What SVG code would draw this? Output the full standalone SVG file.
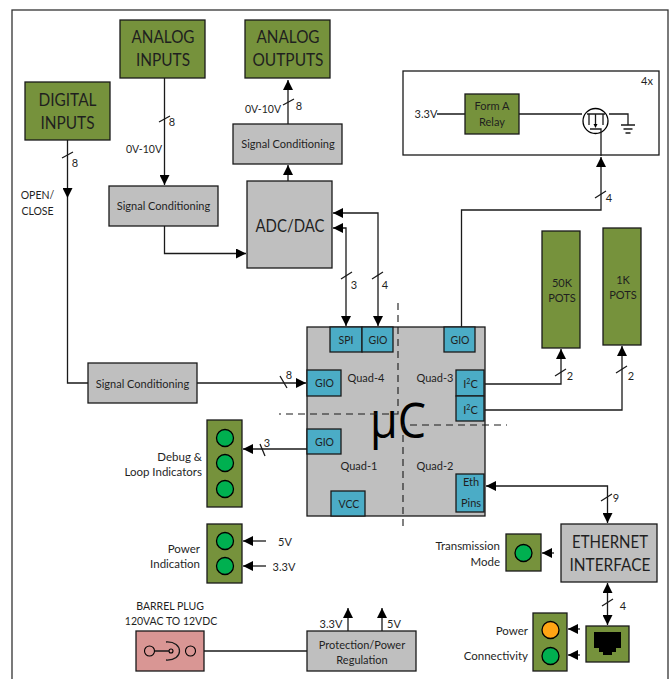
<svg xmlns="http://www.w3.org/2000/svg" width="670" height="679" viewBox="0 0 670 679">
<style>
text{font-family:"Lato","Open Sans","Liberation Sans",sans-serif;fill:#1f1f1f;text-anchor:middle;font-size:11px}
.g{fill:#76923c;stroke:#1a1a1a;stroke-width:1.3}
.k{fill:#bfbfbf;stroke:#1a1a1a;stroke-width:1.3}
.b{fill:#4bacc6;stroke:#1a1a1a;stroke-width:1.3}
.l{fill:#00b050;stroke:#000;stroke-width:1.3}
.t18{font-size:17px}
.t{font-size:11px}
.m{font-size:11.5px}
.n{font-size:10.500px}
.r{text-anchor:end}
.c{fill:none;stroke:#1a1a1a;stroke-width:1.3}
.a{marker-end:url(#ah)}
.ab{marker-start:url(#as);marker-end:url(#ah)}
.d{fill:none;stroke:#1a1a1a;stroke-width:1.1;stroke-dasharray:7 5}
</style>
<defs>
<marker id="ah" markerUnits="userSpaceOnUse" markerWidth="11" markerHeight="10" refX="10" refY="5" orient="auto"><path d="M0 0L10 5L0 10Z" fill="#000"/></marker>
<marker id="as" markerUnits="userSpaceOnUse" markerWidth="11" markerHeight="10" refX="0" refY="5" orient="auto"><path d="M10 0L0 5L10 10Z" fill="#000"/></marker>
</defs>
<rect id="frame" x="12" y="10" width="656" height="680" fill="#fff" stroke="#333" stroke-width="1.3"/>
<g id="connectors">
<path class="c a" d="M67.500 140V198"/><path class="c" d="M67.500 198V383H88"/>
<path class="c a" d="M197 383H306"/>
<path class="c a" d="M164.500 78V185"/>
<path class="c a" d="M164.500 226V253.500H246"/>
<path class="c a" d="M288 124V80"/>
<path class="c a" d="M288 181V165"/>
<path class="c ab" d="M333 228H346V326"/>
<path class="c ab" d="M333 213H378V326"/>
<path class="c a" d="M461.500 327V210H601V157"/>
<path class="c a" d="M485 384H561V349"/>
<path class="c a" d="M485 410H622V346"/>
<path class="c a" d="M307 449H243"/>
<path class="c a" d="M266 541H243"/><path class="c a" d="M266 566H243"/>
<path class="c" d="M204 651H307"/>
<path class="c a" d="M348 631V608"/><path class="c a" d="M382 631V608"/>
<path class="c ab" d="M486 486H607.500V523"/>
<path class="c a" d="M554 553H542"/>
<path class="c ab" d="M607.500 583V625"/>
<path class="c a" d="M580 629H568"/><path class="c a" d="M580 655H568"/>
<path class="c" d="M62 158L73 152M159 122L170 116M283 105L294 99M341 279L352 272M372 279L383 272M595 198L606 191M555 376L566 369M616 373L627 366M601 501L612 494M602 606L613 599M280 376L287 388M260 444L265 456"/>
<path class="c" d="M466 114H582M609 114H628V125M437 114H465"/>
</g>
<g id="relay-box"><rect x="403" y="71" width="256" height="84" fill="none" stroke="#1a1a1a" stroke-width="1.3"/>
<text x="647" y="85" class="t">4x</text><text x="426" y="118" class="t">3.3V</text></g>
<g id="form-a-relay"><rect class="g" x="465" y="94" width="54" height="40"/><text x="492" y="110" class="t">Form A</text><text x="492" y="126" class="t">Relay</text></g>
<g id="mosfet"><circle cx="595.500" cy="121" r="12.500" fill="#fff" stroke="#000" stroke-width="1.3"/>
<path class="c" d="M587 114H605M589 114V125M595.500 114V125M603 114V125M590 129H601V156"/><path d="M593.500 124h4l-2 4z" fill="#000"/></g>
<g id="ground"><path class="c" d="M621 125H635M623.500 129H632.500M625.500 133H630.500"/></g>
<g id="analog-inputs"><rect class="g" x="120" y="20" width="85" height="58"/><text x="163" y="43" class="t18" textLength="63" lengthAdjust="spacingAndGlyphs">ANALOG</text><text x="163" y="66" class="t18" textLength="54" lengthAdjust="spacingAndGlyphs">INPUTS</text></g>
<g id="analog-outputs"><rect class="g" x="245" y="20" width="85" height="58"/><text x="288" y="43" class="t18" textLength="63" lengthAdjust="spacingAndGlyphs">ANALOG</text><text x="288" y="66" class="t18" textLength="71" lengthAdjust="spacingAndGlyphs">OUTPUTS</text></g>
<g id="digital-inputs"><rect class="g" x="25" y="82" width="85" height="58"/><text x="67.500" y="106" class="t18" textLength="58" lengthAdjust="spacingAndGlyphs">DIGITAL</text><text x="67.500" y="129" class="t18" textLength="54" lengthAdjust="spacingAndGlyphs">INPUTS</text></g>
<g id="sc-input"><rect class="k" x="109" y="186" width="109" height="40"/><text x="163.500" y="210" class="t">Signal Conditioning</text></g>
<g id="sc-output"><rect class="k" x="233" y="124" width="109" height="40"/><text x="288" y="148" class="t">Signal Conditioning</text></g>
<g id="sc-digital"><rect class="k" x="88" y="363" width="109" height="40"/><text x="142.500" y="388" class="t">Signal Conditioning</text></g>
<g id="adc-dac"><rect class="k" x="247" y="181" width="85" height="87"/><text x="290" y="232" class="t18" textLength="69" lengthAdjust="spacingAndGlyphs">ADC/DAC</text></g>
<g id="pots-50k"><rect class="g" x="542" y="231" width="38" height="117"/><text x="562" y="287" class="t">50K</text><text x="562" y="302" class="t">POTS</text></g>
<g id="pots-1k"><rect class="g" x="603" y="228" width="38" height="117"/><text x="623" y="284" class="t">1K</text><text x="623" y="299" class="t">POTS</text></g>
<g id="mcu"><rect class="k" x="307" y="327" width="178" height="189"/>
<text x="398" y="438" textLength="56" lengthAdjust="spacingAndGlyphs" style="font-family:'Open Sans','Liberation Sans',sans-serif;font-size:50px;fill:#000">μC</text>
<text x="366" y="382" class="t">Quad-4</text><text x="435" y="382" class="t">Quad-3</text><text x="359" y="470" class="t">Quad-1</text><text x="435" y="470" class="t">Quad-2</text>
<path class="d" d="M398 303V414H279M403 526V425H507"/></g>
<g id="mcu-spi"><rect class="b" x="330" y="327" width="32" height="25"/><text x="346" y="344" class="n">SPI</text></g>
<g id="mcu-gio1"><rect class="b" x="362" y="327" width="31" height="25"/><text x="378" y="344" class="n">GIO</text></g>
<g id="mcu-gio2"><rect class="b" x="444" y="327" width="31" height="25"/><text x="460" y="344" class="n">GIO</text></g>
<g id="mcu-gio3"><rect class="b" x="307" y="370" width="34" height="26"/><text x="324.500" y="387" class="n">GIO</text></g>
<g id="mcu-gio4"><rect class="b" x="307" y="429" width="34" height="25"/><text x="324.500" y="446" class="n">GIO</text></g>
<g id="mcu-vcc"><rect class="b" x="331" y="491" width="34" height="25"/><text x="349" y="508" class="n">VCC</text></g>
<g id="mcu-i2c1"><rect class="b" x="456" y="370" width="28" height="26"/><text x="470.500" y="388" class="t">I<tspan dy="-4" font-size="7">2</tspan><tspan dy="4">C</tspan></text></g>
<g id="mcu-i2c2"><rect class="b" x="456" y="396" width="28" height="25"/><text x="470.500" y="414" class="t">I<tspan dy="-4" font-size="7">2</tspan><tspan dy="4">C</tspan></text></g>
<g id="mcu-eth"><rect class="b" x="456" y="474" width="28" height="38"/><text x="471" y="486" class="t">Eth</text><text x="471" y="507" class="t">Pins</text></g>
<g id="debug-leds"><rect class="g" x="207" y="420" width="35" height="87"/><circle class="l" cx="225" cy="438" r="8.500"/><circle class="l" cx="225" cy="463" r="8.500"/><circle class="l" cx="225" cy="489" r="8.500"/></g>
<g id="power-leds"><rect class="g" x="207" y="524" width="35" height="59"/><circle class="l" cx="225" cy="541" r="8.500"/><circle class="l" cx="225" cy="566" r="8.500"/></g>
<g id="barrel-plug"><rect x="136" y="631" width="68" height="40" fill="#d99694" stroke="#1a1a1a" stroke-width="1.3"/>
<circle cx="149.500" cy="651" r="5" fill="none" stroke="#000" stroke-width="1.100"/><circle cx="190.500" cy="651" r="5" fill="none" stroke="#000" stroke-width="1.100"/><circle cx="171" cy="651" r="2" fill="none" stroke="#000" stroke-width="1.100"/>
<path class="c" d="M154.500 651H169M166 642C184 641 184 661 166 660"/></g>
<g id="protection"><rect class="k" x="307" y="631" width="109" height="40"/><text x="362" y="649" class="t">Protection/Power</text><text x="362" y="664" class="t">Regulation</text></g>
<g id="ethernet-interface"><rect class="k" x="561" y="524" width="96" height="58"/><text x="610" y="548" class="t18" textLength="76" lengthAdjust="spacingAndGlyphs">ETHERNET</text><text x="610" y="571" class="t18" textLength="81" lengthAdjust="spacingAndGlyphs">INTERFACE</text></g>
<g id="tx-led"><rect class="g" x="506" y="534" width="35" height="37"/><circle class="l" cx="523.500" cy="553" r="8.500"/></g>
<g id="rj45"><rect class="g" x="586" y="626" width="43" height="36"/><path d="M594 632H621V648H616V652H612V655H603V652H599V648H594Z" fill="#000"/></g>
<g id="link-leds"><rect class="g" x="533" y="613" width="34" height="58"/><circle cx="550.500" cy="630" r="8.500" fill="#ffa514" stroke="#000" stroke-width="1.300"/><circle class="l" cx="550.500" cy="656" r="8.500"/></g>
<g id="labels">
<text x="172" y="126" class="t">8</text><text x="75" y="167" class="t">8</text><text x="299" y="110" class="t">8</text>
<text x="144" y="153" class="n">0V-10V</text><text x="263" y="113" class="n">0V-10V</text>
<text x="37.500" y="199" class="n">OPEN/</text><text x="37.500" y="215" class="n">CLOSE</text>
<text x="354" y="289" class="t">3</text><text x="385" y="289" class="t">4</text><text x="609" y="202" class="t">4</text>
<text x="570" y="380" class="t">2</text><text x="631" y="380" class="t">2</text><text x="289" y="379" class="t">8</text><text x="267" y="447" class="t">3</text>
<text x="616" y="502" class="t">9</text><text x="623" y="610" class="t">4</text>
<text x="202" y="461" class="m r">Debug &amp;</text><text x="202" y="476" class="m r">Loop Indicators</text>
<text x="200" y="553" class="m r">Power</text><text x="200" y="568" class="m r">Indication</text>
<text x="285" y="546" class="t">5V</text><text x="284" y="571" class="t">3.3V</text>
<text x="170" y="610" class="n">BARREL PLUG</text><text x="171" y="625" class="n">120VAC TO 12VDC</text>
<text x="331" y="628" class="t">3.3V</text><text x="394" y="628" class="t">5V</text>
<text x="500" y="550" class="m r">Transmission</text><text x="500" y="566" class="m r">Mode</text>
<text x="528" y="635" class="m r">Power</text><text x="528" y="660" class="m r">Connectivity</text>
</g>
</svg>
